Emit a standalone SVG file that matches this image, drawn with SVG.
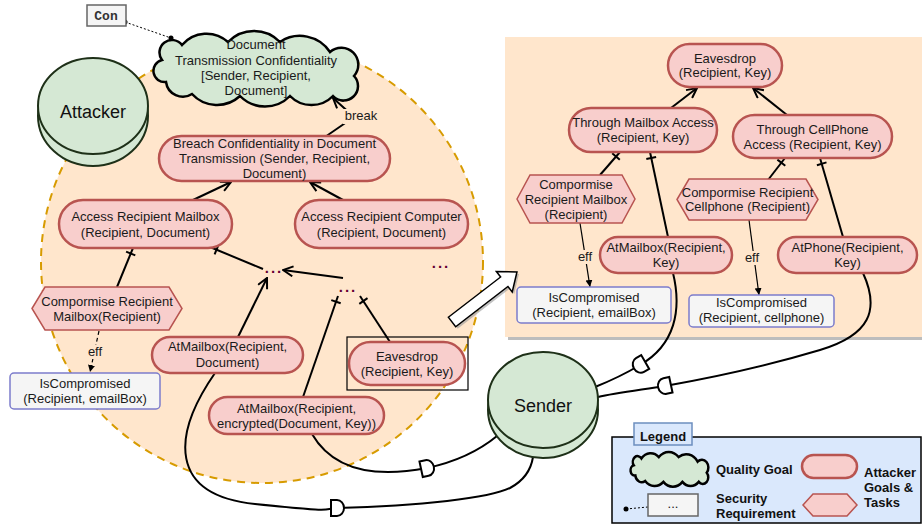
<svg xmlns="http://www.w3.org/2000/svg" xmlns:xlink="http://www.w3.org/1999/xlink" width="922" height="525" viewBox="0 0 922 525">
<style>
.t{font-family:"Liberation Sans",Arial,sans-serif;font-size:13px;fill:#1a1a1a;text-anchor:middle}
.tb{font-family:"Liberation Sans",Arial,sans-serif;font-size:13px;font-weight:bold;fill:#111}
.big{font-family:"Liberation Sans",Arial,sans-serif;font-size:18px;fill:#111;text-anchor:middle}
.pill{fill:#F8CECC;stroke:#B85450;stroke-width:2.5}
.hex{fill:#F8CECC;stroke:#B85450;stroke-width:1.5}
.req{fill:#F5F5F5;stroke:#7C7CCB;stroke-width:1.5}
.gq{fill:#D5E8D4;stroke:#000;stroke-width:2.5}
.actor{fill:#D5E8D4;stroke:#1E3018;stroke-width:2}
.ln{fill:none;stroke:#000;stroke-width:2}
.arr{fill:none;stroke:#000;stroke-width:2;marker-end:url(#open)}
.tick{stroke:#000;stroke-width:2}
.dep{fill:#fff;stroke:#000;stroke-width:2}
.dots{font-family:"Liberation Sans",Arial,sans-serif;font-size:15px;font-weight:bold;fill:#660033;text-anchor:middle;letter-spacing:2px}
</style>
<defs>
<marker id="open" viewBox="0 0 12 12" refX="11" refY="6" markerWidth="12" markerHeight="12" markerUnits="userSpaceOnUse" orient="auto"><path d="M1,1 L11,6 L1,11" fill="none" stroke="#000" stroke-width="2"/></marker>
<marker id="tri" viewBox="0 0 8 8" refX="7" refY="4" markerWidth="8" markerHeight="8" markerUnits="userSpaceOnUse" orient="auto"><path d="M0,0.5 L7,4 L0,7.5 Z" fill="#000"/></marker>
<path id="cloud" vector-effect="non-scaling-stroke" d="M-94,-8 A12.5,12.5 0 0 1 -74,-23 A32,32 0 0 1 -28,-26 A36,36 0 0 1 24,-26 A36,36 0 0 1 74,-16 A17,17 0 0 1 98,8 A14.5,14.5 0 0 1 77,28 A30,30 0 0 1 34,28 A35,35 0 0 1 -16,28 A34,34 0 0 1 -64,26 A17,17 0 0 1 -90,14 A11.2,11.2 0 0 1 -94,-8 Z"/>
<path id="dmark" d="M-6,-8 H0 A7,8 0 0 1 0,8 H-6 Z"/>
</defs>

<!-- boundary of attacker -->
<circle cx="262" cy="262" r="221" fill="#FFE6CC" stroke="#D79B00" stroke-width="2" stroke-dasharray="8,6"/>

<!-- right panel -->
<rect x="508" y="40" width="420" height="300" fill="#BDBDBD"/>
<rect x="505" y="37" width="420" height="300" fill="#FFE6CC"/>

<g id="connectors">
  <line x1="125" y1="22" x2="171" y2="38" stroke="#000" stroke-width="1" stroke-dasharray="2,2"/>
  <circle cx="125" cy="22" r="2.5" fill="#000"/>
  <circle cx="171" cy="38" r="2.5" fill="#000"/>
  <path class="arr" d="M325,137 L354,117 L333,98"/>
  <rect x="343" y="109" width="36" height="15" fill="#FFE6CC"/>
  <text class="t" x="361" y="120">break</text>
  <path class="arr" d="M193,200 L231,182"/>
  <path class="arr" d="M343,200 L310,182"/>
  <path class="ln" d="M117,287 L133,248"/>
  <line class="tick" x1="135.3" y1="255.4" x2="126.1" y2="251.6"/>
  <path class="ln" d="M263,269 L210,247"/>
  <line class="tick" x1="214.6" y1="254.3" x2="218.4" y2="245.1"/>
  <path class="arr" d="M343,278 L283,270"/>
  <path class="arr" d="M238,337 L267,278"/>
  <path class="ln" d="M303,397 L338,296"/>
  <line class="tick" x1="340.7" y1="303.3" x2="331.3" y2="300.1"/>
  <path class="ln" d="M390,342 L360,296"/>
  <line class="tick" x1="367.5" y1="298.2" x2="359.3" y2="303.8"/>
  <path d="M99,331 L90,372" fill="none" stroke="#000" stroke-width="1.2" stroke-dasharray="4,3" marker-end="url(#tri)"/>
  <rect x="85" y="345" width="20" height="14" fill="#FFE6CC"/>
  <text class="t" x="95" y="356">eff</text>

  <path class="arr" d="M671,108 L697,88"/>
  <path class="arr" d="M787,115 L753,88"/>
  <path class="ln" d="M600,175 L620,152"/>
  <line class="tick" x1="619.8" y1="159.8" x2="612.2" y2="153.2"/>
  <path class="ln" d="M668,237 L650,152"/>
  <line class="tick" x1="656.1" y1="156.9" x2="646.3" y2="158.9"/>
  <path class="ln" d="M768,180 L785,158"/>
  <line class="tick" x1="785.3" y1="165.8" x2="777.4" y2="159.6"/>
  <path class="ln" d="M843,237 L820,158"/>
  <line class="tick" x1="826.5" y1="162.4" x2="816.9" y2="165.2"/>
  <path d="M580,223 L590,287" fill="none" stroke="#000" stroke-width="1.2" marker-end="url(#tri)"/>
  <rect x="575" y="250" width="20" height="14" fill="#FFE6CC"/>
  <text class="t" x="585" y="261">eff</text>
  <path d="M749,220 L759,295" fill="none" stroke="#000" stroke-width="1.2" marker-end="url(#tri)"/>
  <rect x="742" y="251" width="20" height="14" fill="#FFE6CC"/>
  <text class="t" x="752" y="262">eff</text>

  <path class="ln" d="M215,373 C172,435 168,495 255,504 S320,509 337,508 C420,506 490,498 510,488 C525,480 531,470 533,457"/>
  <path class="ln" d="M312,434 C330,465 365,480 427,468 C455,462 480,450 497,436"/>
  <path class="ln" d="M673,273 C682,310 675,345 640,365 C625,374 610,381 595,387"/>
  <path class="ln" d="M863,273 C880,310 870,335 820,350 C770,365 710,378 665,386 C640,390 615,393 598,397"/>
  <use xlink:href="#dmark" class="dep" transform="translate(337,508)"/>
  <use xlink:href="#dmark" class="dep" transform="translate(427,468) rotate(-12)"/>
  <use xlink:href="#dmark" class="dep" transform="translate(640,365) rotate(150)"/>
  <use xlink:href="#dmark" class="dep" transform="translate(665,386) rotate(168)"/>
</g>

<g id="attacker">
  <ellipse class="actor" cx="93" cy="116" rx="55" ry="50"/>
  <ellipse class="actor" cx="93" cy="106" rx="55" ry="48"/>
  <text class="big" x="93" y="118">Attacker</text>
</g>

<g id="sender">
  <ellipse class="actor" cx="543" cy="410" rx="55" ry="48"/>
  <ellipse class="actor" cx="543" cy="400" rx="55" ry="48"/>
  <text class="big" x="543" y="412">Sender</text>
</g>

<g id="con">
  <rect x="87" y="5" width="39" height="21" fill="#F5F5F5" stroke="#666" stroke-width="1.5"/>
  <text x="106" y="20" font-family="'Liberation Mono','Courier New',monospace" font-size="13" font-weight="bold" fill="#333" text-anchor="middle">Con</text>
</g>

<g id="softgoal">
  <use xlink:href="#cloud" class="gq" transform="translate(256,68)"/>
  <text class="t" x="256" y="49">Document</text>
  <text class="t" x="256" y="65">Transmission Confidentiality</text>
  <text class="t" x="256" y="80">[Sender, Recipient,</text>
  <text class="t" x="256" y="95">Document]</text>
</g>

<g id="breach">
  <rect class="pill" x="159" y="136" width="231" height="45" rx="22.5"/>
  <text class="t" x="274.5" y="148">Breach Confidentiality in Document</text>
  <text class="t" x="274.5" y="163">Transmission (Sender, Recipient,</text>
  <text class="t" x="274.5" y="178">Document)</text>
</g>

<g id="accessMailbox">
  <rect class="pill" x="59" y="200" width="173" height="48" rx="24"/>
  <text class="t" x="145.5" y="221">Access Recipient Mailbox</text>
  <text class="t" x="145.5" y="237">(Recipient, Document)</text>
</g>

<g id="accessComputer">
  <rect class="pill" x="295" y="200" width="173" height="48" rx="24"/>
  <text class="t" x="381.5" y="221">Access Recipient Computer</text>
  <text class="t" x="381.5" y="237">(Recipient, Document)</text>
</g>

<g id="dots1"><text class="dots" x="274" y="273">...</text></g>
<g id="dots2"><text class="dots" x="348" y="292">...</text></g>
<g id="dots3"><text class="dots" x="441" y="268">...</text></g>

<g id="compMailboxL">
  <polygon class="hex" points="32,308.5 45,287 169,287 182,308.5 169,330 45,330"/>
  <text class="t" x="107" y="306">Compormise Recipient</text>
  <text class="t" x="107" y="321">Mailbox(Recipient)</text>
</g>

<g id="isCompL">
  <rect class="req" x="10" y="373" width="150" height="36" rx="4"/>
  <text class="t" x="85" y="388" fill="#333">IsCompromised</text>
  <text class="t" x="85" y="403" fill="#333">(Recipient, emailBox)</text>
</g>

<g id="atMailboxDoc">
  <rect class="pill" x="152" y="337" width="151" height="36" rx="18"/>
  <text class="t" x="227.5" y="351">AtMailbox(Recipient,</text>
  <text class="t" x="227.5" y="367">Document)</text>
</g>

<g id="eavesdropL">
  <rect x="347" y="337" width="121" height="53" fill="none" stroke="#000" stroke-width="1.2"/>
  <rect class="pill" x="349" y="342" width="116" height="43" rx="21.5"/>
  <text class="t" x="407" y="361">Eavesdrop</text>
  <text class="t" x="407" y="376">(Recipient, Key)</text>
</g>

<g id="atMailboxEnc">
  <rect class="pill" x="209" y="397" width="175" height="37" rx="18.5"/>
  <text class="t" x="296.5" y="413">AtMailbox(Recipient,</text>
  <text class="t" x="296.5" y="428">encrypted(Document, Key))</text>
</g>

<g id="eavesdropR">
  <rect class="pill" x="668" y="44" width="114" height="43" rx="21.5"/>
  <text class="t" x="725" y="63">Eavesdrop</text>
  <text class="t" x="725" y="77">(Recipient, Key)</text>
</g>

<g id="throughMailbox">
  <rect class="pill" x="569" y="108" width="148" height="44" rx="22"/>
  <text class="t" x="643" y="127">Through Mailbox Access</text>
  <text class="t" x="643" y="142">(Recipient, Key)</text>
</g>

<g id="throughCell">
  <rect class="pill" x="733" y="115" width="159" height="43" rx="21.5"/>
  <text class="t" x="812.5" y="134">Through CellPhone</text>
  <text class="t" x="812.5" y="149">Access (Recipient, Key)</text>
</g>

<g id="compMailboxR">
  <polygon class="hex" points="517,199 530,175 622,175 635,199 622,223 530,223"/>
  <text class="t" x="576" y="189">Compormise</text>
  <text class="t" x="576" y="204">Recipient Mailbox</text>
  <text class="t" x="576" y="219">(Recipient)</text>
</g>

<g id="compCell">
  <polygon class="hex" points="677,199.5 689,179 806,179 818,199.5 806,220 689,220"/>
  <text class="t" x="747.5" y="197">Compormise Recipient</text>
  <text class="t" x="747.5" y="211">Cellphone (Recipient)</text>
</g>

<g id="atMailboxKey">
  <rect class="pill" x="600" y="237" width="132" height="36" rx="18"/>
  <text class="t" x="666" y="252">AtMailbox(Recipient,</text>
  <text class="t" x="666" y="267">Key)</text>
</g>

<g id="atPhone">
  <rect class="pill" x="778" y="237" width="139" height="36" rx="18"/>
  <text class="t" x="847.5" y="252">AtPhone(Recipient,</text>
  <text class="t" x="847.5" y="267">Key)</text>
</g>

<g id="isCompR1">
  <rect class="req" x="517" y="287" width="154" height="36" rx="4"/>
  <text class="t" x="594" y="302" fill="#333">IsCompromised</text>
  <text class="t" x="594" y="317" fill="#333">(Recipient, emailBox)</text>
</g>

<g id="isCompR2">
  <rect class="req" x="689" y="295" width="145" height="32" rx="4"/>
  <text class="t" x="761.5" y="307" fill="#333">IsCompromised</text>
  <text class="t" x="761.5" y="322" fill="#333">(Recipient, cellphone)</text>
</g>

<g id="zoomArrow">
  <polygon transform="translate(454,324) rotate(-37.6)" points="0,-6 66,-6 66,-13 82,0 66,13 66,6 0,6" fill="#999" opacity="0.6"/>
  <polygon transform="translate(452,322) rotate(-37.6)" points="0,-6 66,-6 66,-13 82,0 66,13 66,6 0,6" fill="#fff" stroke="#000" stroke-width="1.5"/>
</g>

<g id="legend">
  <rect x="612" y="437" width="309" height="86" fill="#DAE8FC" stroke="#000" stroke-width="1.5"/>
  <rect x="634" y="423" width="58" height="22" fill="#DAE8FC" stroke="#6C8EBF" stroke-width="1.5"/>
  <text class="tb" x="663" y="441" text-anchor="middle">Legend</text>
  <use xlink:href="#cloud" class="gq" transform="translate(669.5,469) scale(0.38,0.46)"/>
  <text class="tb" x="716" y="474">Quality Goal</text>
  <rect class="pill" x="802" y="455" width="55" height="23" rx="11.5"/>
  <polygon class="hex" points="803,505 813,494 847,494 857,505 847,516 813,516"/>
  <text class="tb" x="864" y="477">Attacker</text>
  <text class="tb" x="864" y="492">Goals &amp;</text>
  <text class="tb" x="864" y="507">Tasks</text>
  <line x1="626" y1="509" x2="648" y2="507" stroke="#000" stroke-width="1" stroke-dasharray="2,2"/>
  <circle cx="626" cy="509" r="2.5" fill="#000"/>
  <rect x="648" y="494" width="50" height="22" fill="#F5F5F5" stroke="#666" stroke-width="1.5"/>
  <text class="t" x="673" y="508" fill="#666">...</text>
  <text class="tb" x="716" y="503">Security</text>
  <text class="tb" x="716" y="518">Requirement</text>
</g>
</svg>
